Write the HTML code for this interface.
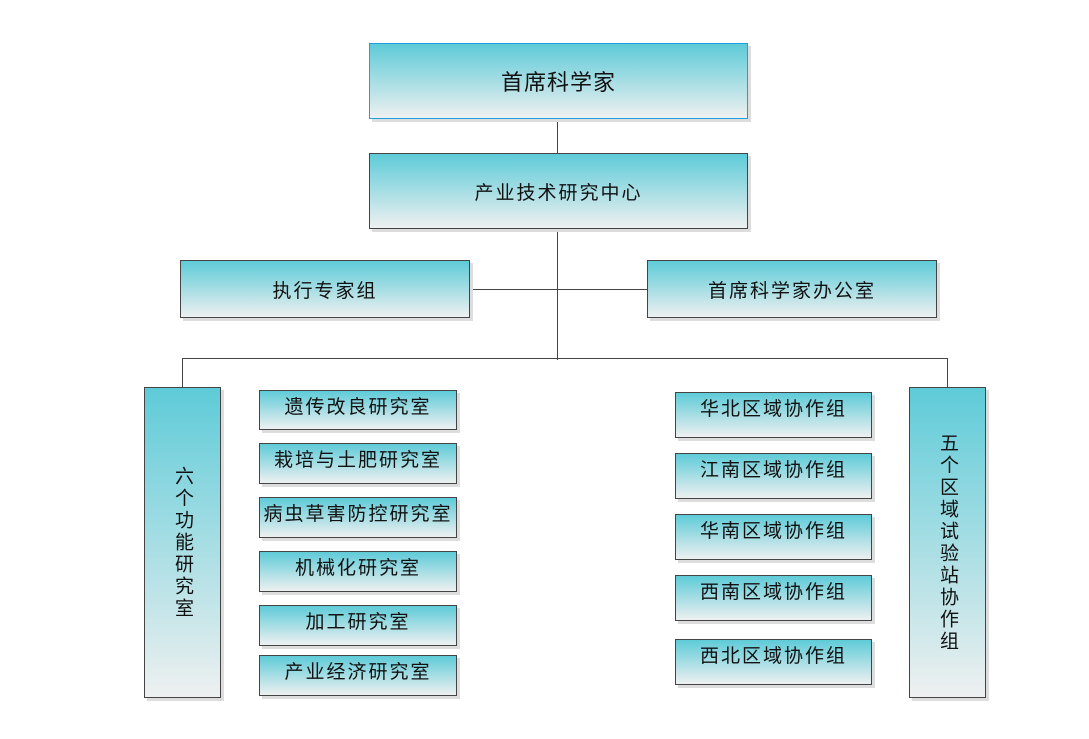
<!DOCTYPE html>
<html><head><meta charset="utf-8"><style>
body{margin:0;width:1089px;height:739px;background:#fff;position:relative;overflow:hidden;font-family:"Liberation Sans","Noto Sans CJK SC",sans-serif;color:#111}
.b{position:absolute;box-sizing:border-box;border:1.5px solid #444;background:linear-gradient(#5ecbd8,#eef0f0);box-shadow:3px 3px 0 #ddd;display:flex;align-items:center;justify-content:center;font-size:19px;letter-spacing:2px}
.s{align-items:flex-start;padding-top:1px}
.l{position:absolute;background:#444}
.v{writing-mode:vertical-rl;text-orientation:upright;letter-spacing:3px;font-size:19px}
</style></head><body>
<div class="l" style="left:557px;top:118px;width:1px;height:36px"></div>
<div class="l" style="left:557px;top:228px;width:1px;height:132px"></div>
<div class="l" style="left:469px;top:289px;width:178px;height:1px"></div>
<div class="l" style="left:182px;top:358px;width:766px;height:1px"></div>
<div class="l" style="left:182px;top:358px;width:1px;height:30px"></div>
<div class="l" style="left:947px;top:358px;width:1px;height:30px"></div>
<div class="b" style="left:369px;top:43px;width:379px;height:76px;border-color:#1ea0e0;font-size:22px;letter-spacing:1px">首席科学家</div>
<div class="b" style="left:369px;top:153px;width:379px;height:76px">产业技术研究中心</div>
<div class="b" style="left:180px;top:260px;width:290px;height:58px">执行专家组</div>
<div class="b" style="left:647px;top:260px;width:290px;height:58px">首席科学家办公室</div>
<div class="b v" style="left:144px;top:387px;width:77px;height:311px">六个功能研究室</div>
<div class="b v" style="left:909px;top:387px;width:77px;height:311px">五个区域试验站协作组</div>
<div class="b s" style="left:259px;top:390px;width:198px;height:40px">遗传改良研究室</div>
<div class="b s" style="left:259px;top:443px;width:198px;height:41px">栽培与土肥研究室</div>
<div class="b s" style="left:259px;top:497px;width:198px;height:41px">病虫草害防控研究室</div>
<div class="b s" style="left:259px;top:551px;width:198px;height:41px">机械化研究室</div>
<div class="b s" style="left:259px;top:605px;width:198px;height:41px">加工研究室</div>
<div class="b s" style="left:259px;top:655px;width:198px;height:41px">产业经济研究室</div>
<div class="b s" style="left:675px;top:392px;width:197px;height:46px">华北区域协作组</div>
<div class="b s" style="left:675px;top:453px;width:197px;height:46px">江南区域协作组</div>
<div class="b s" style="left:675px;top:514px;width:197px;height:46px">华南区域协作组</div>
<div class="b s" style="left:675px;top:575px;width:197px;height:46px">西南区域协作组</div>
<div class="b s" style="left:675px;top:639px;width:197px;height:46px">西北区域协作组</div>
</body></html>
